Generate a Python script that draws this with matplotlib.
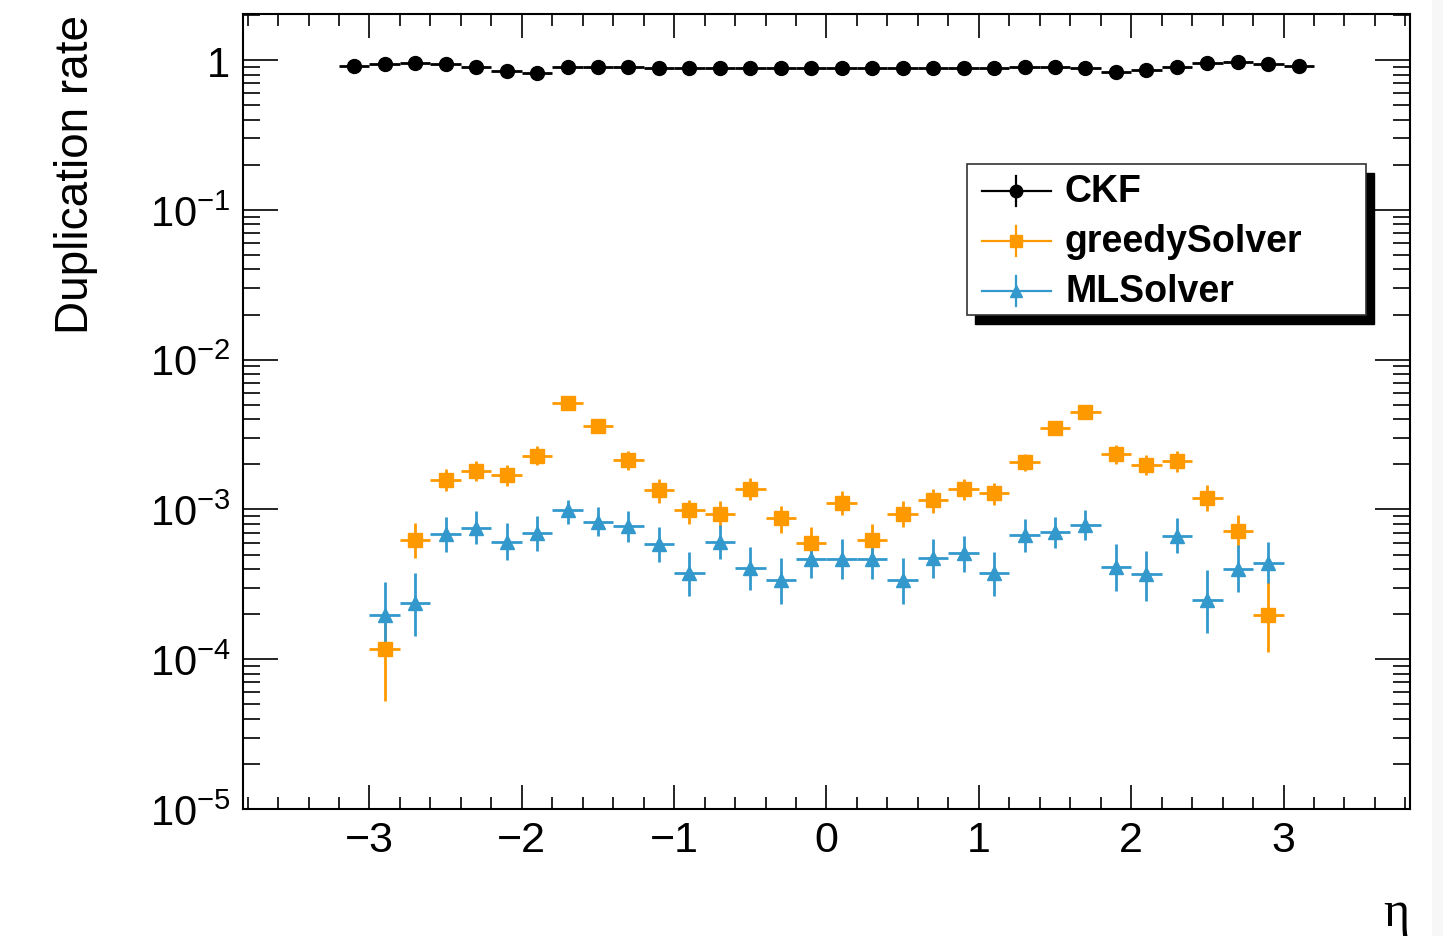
import numpy as np
import matplotlib
matplotlib.use("Agg")
import matplotlib.pyplot as plt
from matplotlib.lines import Line2D
from matplotlib.patches import Rectangle
from matplotlib.ticker import FixedLocator, FixedFormatter, LogLocator, NullFormatter, MultipleLocator

plt.rcParams['font.family'] = ['Liberation Sans', 'DejaVu Sans']

# eta bin centres (bin width 0.2)
eta_ckf = [-3.1, -2.9, -2.7, -2.5, -2.3, -2.1, -1.9, -1.7, -1.5, -1.3, -1.1, -0.9, -0.7, -0.5, -0.3, -0.1,
           0.1, 0.3, 0.5, 0.7, 0.9, 1.1, 1.3, 1.5, 1.7, 1.9, 2.1, 2.3, 2.5, 2.7, 2.9, 3.1]
eta_solver = [-2.9, -2.7, -2.5, -2.3, -2.1, -1.9, -1.7, -1.5, -1.3, -1.1, -0.9, -0.7, -0.5, -0.3, -0.1,
              0.1, 0.3, 0.5, 0.7, 0.9, 1.1, 1.3, 1.5, 1.7, 1.9, 2.1, 2.3, 2.5, 2.7, 2.9]
bin_half_width = 0.1

ckf_rate = [0.916, 0.936, 0.951, 0.94, 0.894, 0.848, 0.815, 0.894, 0.902, 0.902, 0.88, 0.88, 0.88, 0.88, 0.88, 0.88,
            0.88, 0.88, 0.88, 0.88, 0.88, 0.88, 0.894, 0.894, 0.88, 0.828, 0.862, 0.894, 0.955, 0.965, 0.936, 0.916]

greedy_rate = [1.17e-4, 6.25e-4, 1.58e-3, 1.815e-3, 1.71e-3, 2.29e-3, 5.15e-3, 3.63e-3, 2.15e-3, 1.34e-3,
               9.94e-4, 9.35e-4, 1.37e-3, 8.75e-4, 5.94e-4, 1.10e-3, 6.25e-4, 9.35e-4, 1.15e-3, 1.37e-3,
               1.285e-3, 2.06e-3, 3.51e-3, 4.49e-3, 2.35e-3, 1.99e-3, 2.09e-3, 1.20e-3, 7.22e-4, 1.97e-4]
greedy_lo = [5.3e-5, 4.72e-4, 1.32e-3, 1.54e-3, 1.44e-3, 1.97e-3, 4.72e-3, 3.26e-3, 1.84e-3, 1.11e-3,
             8.0e-4, 7.68e-4, 1.16e-3, 7.0e-4, 4.45e-4, 9.2e-4, 4.83e-4, 7.68e-4, 9.5e-4, 1.15e-3,
             1.07e-3, 1.815e-3, 3.16e-3, 4.13e-3, 2.02e-3, 1.69e-3, 1.79e-3, 9.7e-4, 5.64e-4, 1.12e-4]
greedy_hi = [1.75e-4, 8.17e-4, 1.86e-3, 2.12e-3, 1.99e-3, 2.64e-3, 5.6e-3, 3.98e-3, 2.47e-3, 1.60e-3,
             1.16e-3, 1.14e-3, 1.61e-3, 1.06e-3, 7.68e-4, 1.32e-3, 8.0e-4, 1.13e-3, 1.37e-3, 1.60e-3,
             1.50e-3, 2.36e-3, 3.88e-3, 4.9e-3, 2.68e-3, 2.32e-3, 2.44e-3, 1.46e-3, 9.2e-4, 3.29e-4]

ml_rate = [1.97e-4, 2.38e-4, 6.86e-4, 7.57e-4, 6.09e-4, 7.0e-4, 9.94e-4, 8.3e-4, 7.76e-4, 5.88e-4,
           3.78e-4, 6.09e-4, 4.04e-4, 3.37e-4, 4.67e-4, 4.67e-4, 4.67e-4, 3.37e-4, 4.72e-4, 5.1e-4,
           3.74e-4, 6.76e-4, 7.11e-4, 7.88e-4, 4.1e-4, 3.68e-4, 6.68e-4, 2.48e-4, 4.0e-4, 4.4e-4]
ml_lo = [1.05e-4, 1.42e-4, 5.22e-4, 5.85e-4, 4.59e-4, 5.3e-4, 8.0e-4, 6.65e-4, 6.04e-4, 4.43e-4,
         2.64e-4, 4.67e-4, 2.89e-4, 2.32e-4, 3.47e-4, 3.43e-4, 3.43e-4, 2.32e-4, 3.5e-4, 3.8e-4,
         2.64e-4, 5.22e-4, 5.56e-4, 6.25e-4, 2.84e-4, 2.45e-4, 5.1e-4, 1.5e-4, 2.79e-4, 3.24e-4]
ml_hi = [3.29e-4, 3.74e-4, 8.96e-4, 9.7e-4, 8.1e-4, 9.06e-4, 1.16e-3, 1.04e-3, 9.7e-4, 7.6e-4,
         5.22e-4, 7.88e-4, 5.59e-4, 4.76e-4, 6.25e-4, 6.32e-4, 6.32e-4, 4.76e-4, 6.32e-4, 6.68e-4,
         5.18e-4, 8.6e-4, 8.96e-4, 9.94e-4, 5.85e-4, 5.28e-4, 8.75e-4, 3.94e-4, 5.79e-4, 6.04e-4]

labels = ["CKF", "greedySolver", "MLSolver"]
colors = ["black", "#ff9900", "#3399cc"]
markers = ["o", "s", "^"]

W, H = 1443, 937
fig = plt.figure(figsize=(W / 100, H / 100), dpi=100)


def fx(x):
    return x / W


def fy(y):
    return 1 - y / H


# light strip at the right edge of the screenshot
fig.patches.append(Rectangle((fx(1432), 0), fx(W - 1432), 1, transform=fig.transFigure,
                             facecolor="#f7f7f7", edgecolor="none", zorder=0))

ax = fig.add_axes([fx(243), fy(810), fx(1410 - 243), (810 - 15) / H])

ax.errorbar(eta_ckf, ckf_rate, xerr=bin_half_width, fmt=markers[0], color=colors[0],
            ms=10, elinewidth=2, capsize=0)

g = np.array(greedy_rate)
ax.errorbar(eta_solver, g, xerr=bin_half_width,
            yerr=[g - np.array(greedy_lo), np.array(greedy_hi) - g],
            fmt=markers[1], color=colors[1], ms=10, elinewidth=2, capsize=0)

m = np.array(ml_rate)
ax.errorbar(eta_solver, m, xerr=bin_half_width,
            yerr=[m - np.array(ml_lo), np.array(ml_hi) - m],
            fmt=markers[2], color=colors[2], ms=9.5, elinewidth=2, capsize=0)

ax.set_yscale("log")
ax.set_xlim(-3.83, 3.83)
ax.set_ylim(1e-5, 2.03)

ax.xaxis.set_major_locator(MultipleLocator(1))
ax.xaxis.set_minor_locator(MultipleLocator(0.2))
ax.yaxis.set_major_locator(FixedLocator([1e-5, 1e-4, 1e-3, 1e-2, 1e-1, 1]))
ax.yaxis.set_major_formatter(FixedFormatter([r"$\mathregular{10^{-5}}$", r"$\mathregular{10^{-4}}$",
                                             r"$\mathregular{10^{-3}}$", r"$\mathregular{10^{-2}}$",
                                             r"$\mathregular{10^{-1}}$", "1"]))
ax.yaxis.set_minor_locator(LogLocator(base=10, subs=np.arange(2, 10), numticks=20))
ax.yaxis.set_minor_formatter(NullFormatter())

ax.tick_params(which="both", direction="in", top=True, right=True, width=1.2, colors="black")
ax.tick_params(axis="y", which="major", length=25, labelsize=30, pad=9)
ax.tick_params(axis="y", which="minor", length=12.5)
ax.tick_params(axis="x", which="major", length=17, labelsize=31, pad=8)
ax.tick_params(axis="x", which="minor", length=8.5)
for s in ax.spines.values():
    s.set_linewidth(1.5)

fig.text(fx(76), fy(15), "Duplication rate", rotation=90, ha="center", va="top", fontsize=33)
fig.text(fx(1409), fy(926), "η", ha="right", va="baseline", fontsize=36,
         family=["Liberation Serif", "DejaVu Serif"])

# legend drawn by hand with the ROOT-style shadow
lx0, ly0, lx1, ly1 = 967, 165, 1366, 316
fig.patches.append(Rectangle((fx(lx0 + 8), fy(ly1 + 9)), fx(lx1 - lx0), (ly1 - ly0) / H,
                             transform=fig.transFigure, facecolor="black", edgecolor="black", zorder=5))
fig.patches.append(Rectangle((fx(lx0), fy(ly1)), fx(lx1 - lx0), (ly1 - ly0) / H,
                             transform=fig.transFigure, facecolor="white", edgecolor="#333333",
                             linewidth=1.2, zorder=6))
rows = [192, 242, 292]
for lab, col, mk, yy in zip(labels, colors, markers, rows):
    fig.add_artist(Line2D([fx(982), fx(1051)], [fy(yy), fy(yy)], transform=fig.transFigure,
                          color=col, lw=1.6, zorder=7))
    fig.add_artist(Line2D([fx(1016), fx(1016)], [fy(yy - 15), fy(yy + 15)], transform=fig.transFigure,
                          color=col, lw=1.6, zorder=7))
    fig.add_artist(Line2D([fx(1016)], [fy(yy)], transform=fig.transFigure, marker=mk,
                          color=col, ms=9 if mk != "^" else 8, lw=0, zorder=8))
    fig.text(fx(1065), fy(yy), lab, ha="left", va="center", fontsize=27, fontweight="bold", zorder=8)

fig.savefig("out.png", dpi=100)
